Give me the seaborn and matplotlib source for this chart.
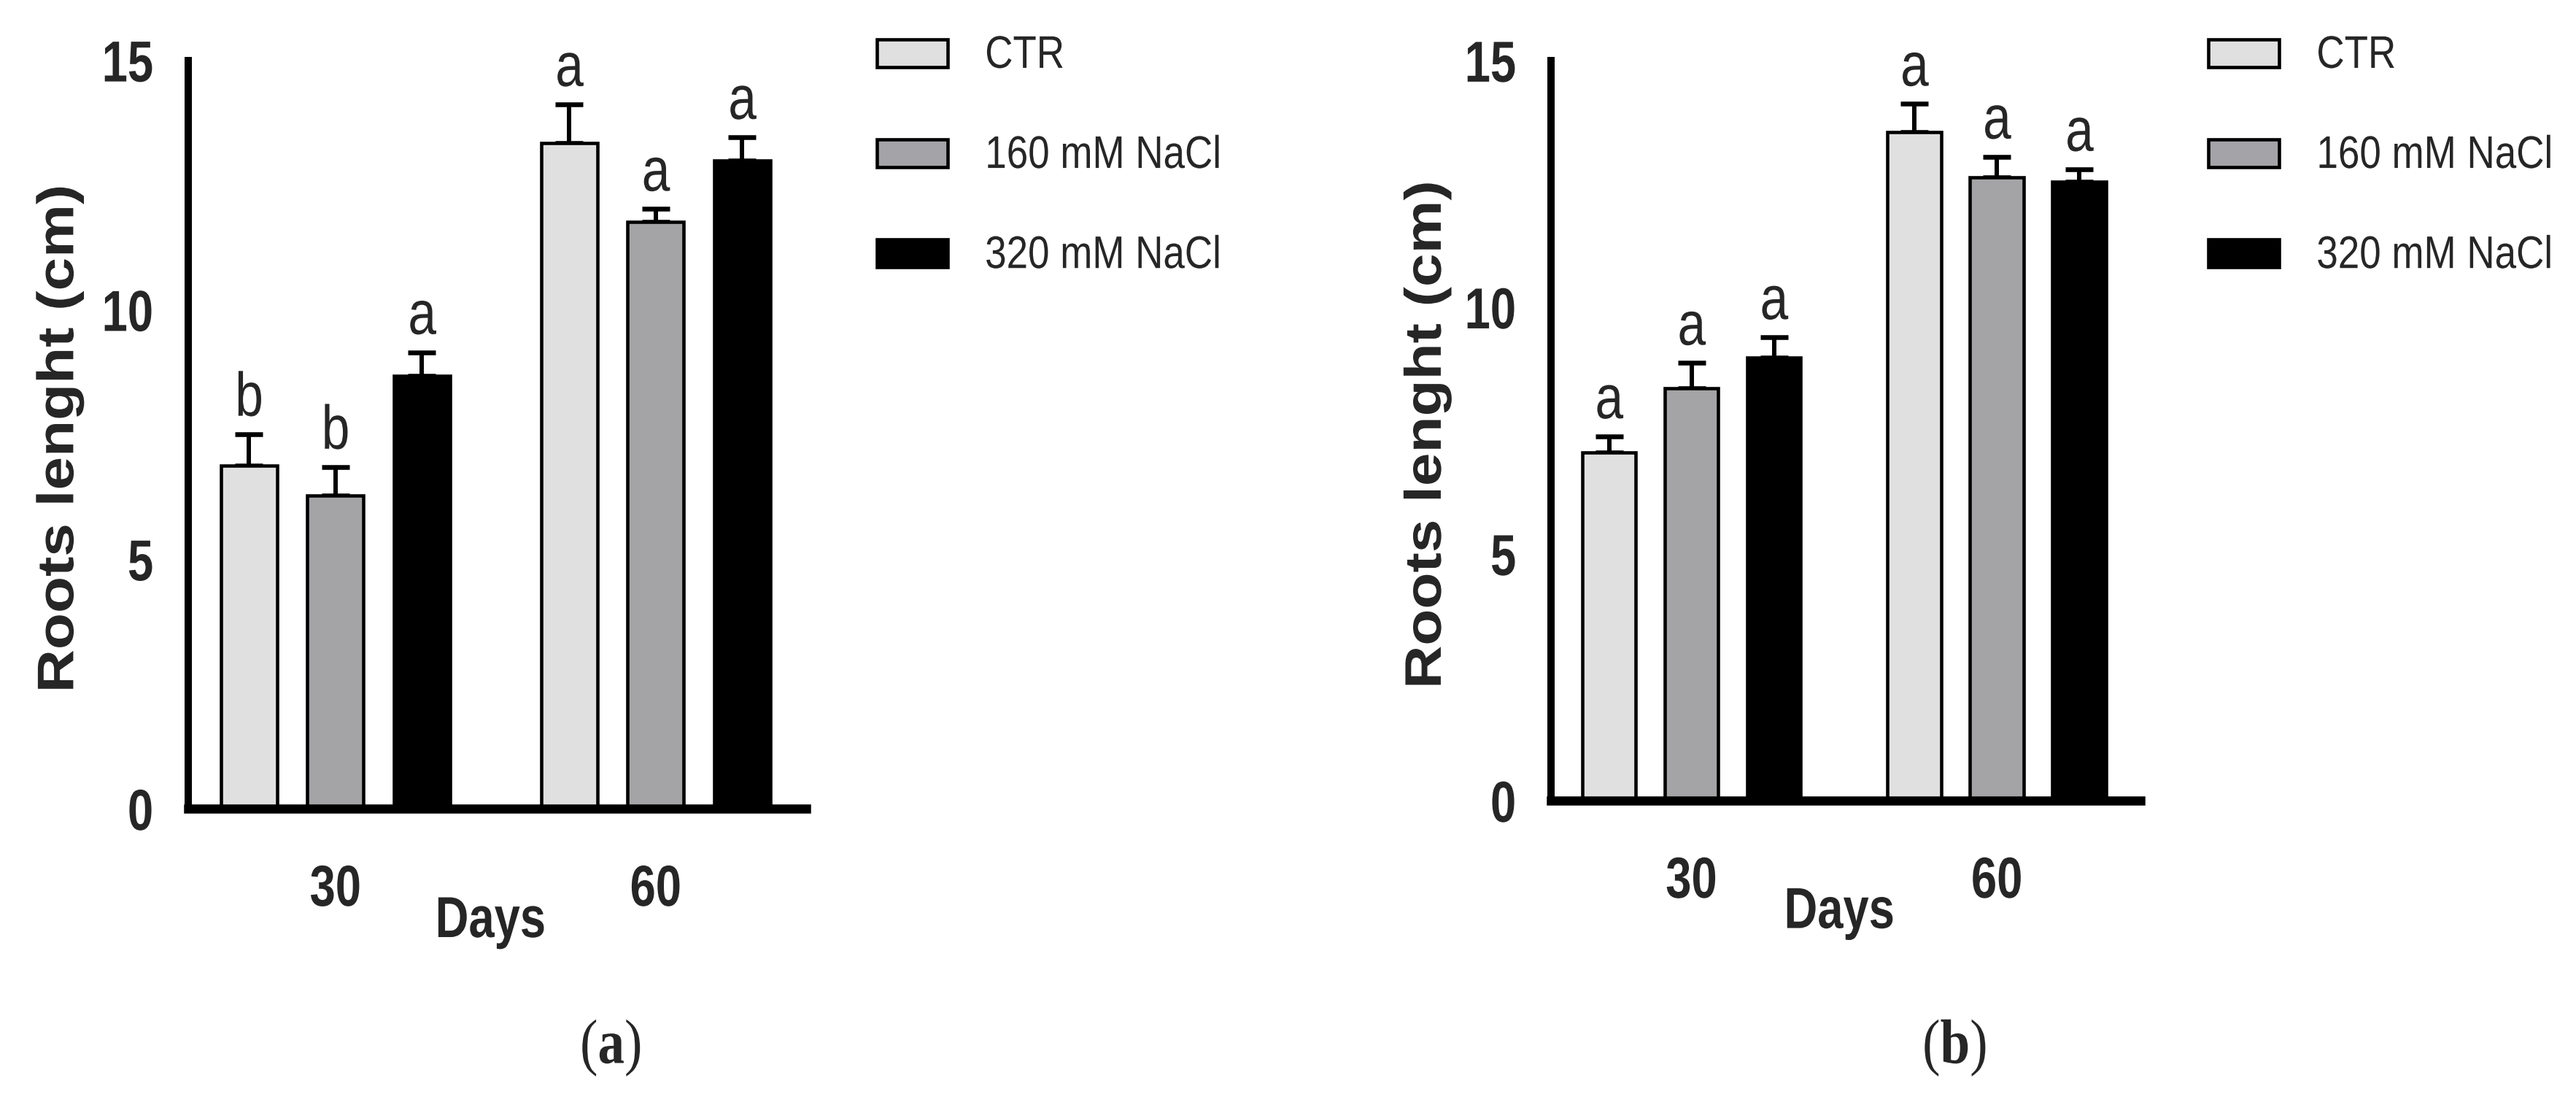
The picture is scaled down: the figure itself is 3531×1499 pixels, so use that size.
import pandas as pd
import numpy as np
import matplotlib
matplotlib.use('Agg')
import matplotlib.pyplot as plt
import matplotlib.patches as mpatches
from matplotlib.patheffects import AbstractPathEffect
from matplotlib.transforms import Affine2D
import seaborn as sns

# values (mean and upper error bar)
days = ['30', '60']
treatments = ['CTR', '160 mM NaCl', '320 mM NaCl']
colors = ['#e0e0e0', '#a3a3a8', '#000000']

a_ctr = [6.88, 13.34]
a_160 = [6.28, 11.76]
a_320 = [8.68, 12.99]
a_ctr_err = [0.63, 0.78]
a_160_err = [0.57, 0.26]
a_320_err = [0.47, 0.47]
a_letters = [['b', 'a'], ['b', 'a'], ['a', 'a']]

b_ctr = [7.06, 13.55]
b_160 = [8.36, 12.63]
b_320 = [8.98, 12.54]
b_ctr_err = [0.32, 0.57]
b_160_err = [0.51, 0.42]
b_320_err = [0.41, 0.26]
b_letters = [['a', 'a'], ['a', 'a'], ['a', 'a']]

sns.set_style('white')
plt.rcParams['font.family'] = ['Liberation Sans', 'DejaVu Sans']
plt.rcParams['mathtext.fontset'] = 'custom'
plt.rcParams['mathtext.rm'] = 'Liberation Serif'
plt.rcParams['mathtext.bf'] = 'Liberation Serif:bold'


class Squeeze(AbstractPathEffect):
    # reshape glyphs (the original uses a condensed face)
    def __init__(self, sx=0.82, anchor='center', sy=1.0):
        super().__init__()
        self.sx = sx
        self.sy = sy
        self.anchor = anchor

    def draw_path(self, renderer, gc, tpath, affine, rgbFace=None):
        ext = tpath.get_extents()
        ref = {'left': ext.x0, 'right': ext.x1}.get(self.anchor, (ext.x0 + ext.x1) / 2)
        t = Affine2D().translate(-ref, 0).scale(self.sx, self.sy).translate(ref, 0)
        renderer.draw_path(gc, tpath, t + affine, rgbFace)


def make_df(means, errs):
    rows = []
    for t, m, e in zip(treatments, means, errs):
        for d, v, ev in zip(days, m, e):
            rows.append({'day': d, 'treatment': t, 'length': v, 'err': ev})
    return pd.DataFrame(rows)


def draw_panel(ax, df, letters, legend_xy):
    sns.barplot(data=df, x='day', y='length', hue='treatment', hue_order=treatments,
                palette=colors, width=0.81, gap=0.35, errorbar=None,
                edgecolor='black', linewidth=3.3, legend=False, ax=ax)
    for i, (t, cont) in enumerate(zip(treatments, ax.containers)):
        sub = df[df['treatment'] == t]
        for j, bar in enumerate(cont):
            x = bar.get_x() + bar.get_width() / 2
            h = bar.get_height()
            e = sub['err'].iloc[j]
            ax.errorbar(x, h, yerr=[[0], [e]], fmt='none', ecolor='black',
                        elinewidth=4.3, capsize=13.7, capthick=4.7, zorder=0.9)
            ax.annotate(letters[i][j], (x, h + e), xytext=(0, 5), textcoords='offset points',
                        ha='center', va='bottom', fontsize=61,
                        path_effects=[Squeeze(0.82, 'center')])
    ax.set_ylim(0, 15)
    ax.set_xlim(-0.46, 1.47)
    ax.set_yticks([0, 5, 10, 15])
    sns.despine(ax=ax)
    ax.spines['left'].set_linewidth(7.2)
    ax.spines['bottom'].set_linewidth(9)
    for s in ['left', 'bottom']:
        ax.spines[s].set_color('black')
    ax.tick_params(axis='y', length=29, width=7.2, pad=5, labelsize=57, color='black')
    ax.tick_params(axis='x', length=35, width=7, pad=19, labelsize=57, color='black')
    for lab in ax.get_xticklabels():
        lab.set_fontweight('bold')
        lab.set_path_effects([Squeeze(0.8, 'center')])
    for lab in ax.get_yticklabels():
        lab.set_fontweight('bold')
        lab.set_path_effects([Squeeze(0.8, 'right')])
    ax.set_xlabel('Days', fontsize=57, fontweight='bold',
                  path_effects=[Squeeze(0.8, 'center')])
    ax.xaxis.set_label_coords(0.489, -0.115)
    ax.set_ylabel('Roots lenght (cm)', fontsize=59, fontweight='bold',
                  path_effects=[Squeeze(1.0, 'center', 0.86)])
    ax.yaxis.set_label_coords(-0.166, 0.495)
    handles = [mpatches.Patch(facecolor=c, edgecolor='black', linewidth=3.3, label=t)
               for c, t in zip(colors, treatments)]
    leg = ax.legend(handles=handles, loc='upper left', bbox_to_anchor=legend_xy,
                    bbox_transform=ax.figure.transFigure, frameon=False, fontsize=41,
                    handlelength=1.70, handleheight=0.65, handletextpad=0.9,
                    labelspacing=1.46, borderpad=0, borderaxespad=0)
    for txt in leg.get_texts():
        txt.set_path_effects([Squeeze(0.93, 'left', 1.1)])


fig = plt.figure(figsize=(35.31, 14.99), dpi=100)
ax_a = fig.add_axes([0.07307, 0.2608, 0.2399, 0.6841])
ax_b = fig.add_axes([0.6021, 0.2682, 0.2288, 0.6765])

draw_panel(ax_a, make_df([a_ctr, a_160, a_320], [a_ctr_err, a_160_err, a_320_err]),
           a_letters, (0.3404, 0.966))
draw_panel(ax_b, make_df([b_ctr, b_160, b_320], [b_ctr_err, b_160_err, b_320_err]),
           b_letters, (0.8573, 0.966))

fig.text(0.2370, 0.042, r'$(\mathbf{a})$', ha='center', va='center', fontsize=62,
         path_effects=[Squeeze(0.85, 'center')])
fig.text(0.7587, 0.042, r'$(\mathbf{b})$', ha='center', va='center', fontsize=62,
         path_effects=[Squeeze(0.85, 'center')])

fig.savefig('out.png', dpi=100)
